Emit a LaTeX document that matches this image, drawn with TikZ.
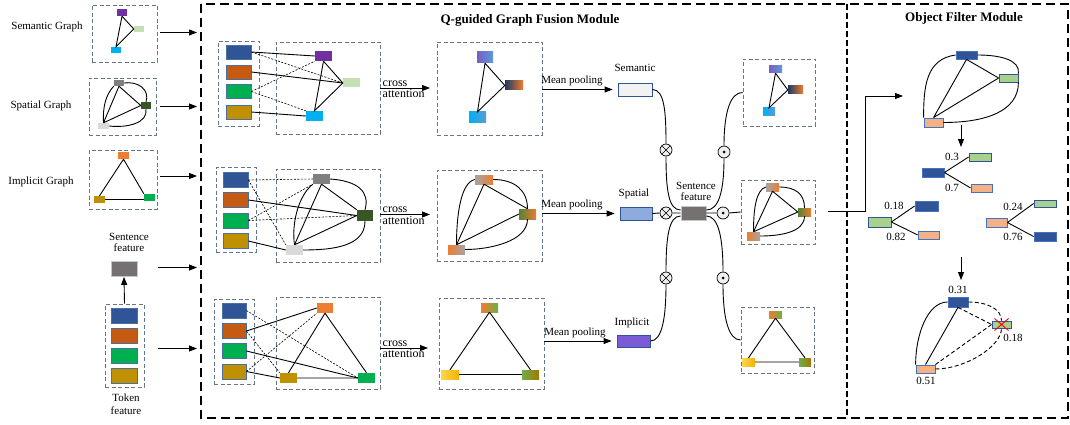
\documentclass[tikz,border=0pt]{standalone}
\usepackage{fontspec}
\setmainfont{Liberation Serif}
\usetikzlibrary{arrows.meta,calc}
\definecolor{cpurple}{HTML}{7030A0}
\definecolor{clgreen}{HTML}{C5E0B4}
\definecolor{ccyan}{HTML}{00B0F0}
\definecolor{cgray}{HTML}{7F7F7F}
\definecolor{cdgreen}{HTML}{375623}
\definecolor{clgray}{HTML}{D9D9D9}
\definecolor{corange}{HTML}{ED7D31}
\definecolor{cgold}{HTML}{BF9000}
\definecolor{cgreen}{HTML}{00B050}
\definecolor{tblue}{HTML}{2F5597}
\definecolor{torange}{HTML}{C55A11}
\definecolor{tbord}{HTML}{4A6FA5}
\definecolor{dashc}{HTML}{66758C}
\definecolor{gpurple}{HTML}{7B5CC4}
\definecolor{gblue}{HTML}{5B9BD5}
\definecolor{gnavy}{HTML}{1F3864}
\definecolor{ggray}{HTML}{A5A5A5}
\definecolor{ggreen}{HTML}{548235}
\definecolor{glgreen}{HTML}{70AD47}
\definecolor{gyel1}{HTML}{FFD54F}
\definecolor{gyel2}{HTML}{F0B400}
\definecolor{golive}{HTML}{9C7A00}
\definecolor{semf}{HTML}{F2F2F2}
\definecolor{spaf}{HTML}{8FAADC}
\definecolor{impf}{HTML}{7B5CD6}
\definecolor{sfgray}{HTML}{767171}
\definecolor{sfbord}{HTML}{C9C6C6}
\definecolor{ofgreen}{HTML}{A9D18E}
\definecolor{ofpeach}{HTML}{F4B183}
\definecolor{ofbord}{HTML}{4472C4}
\newcommand{\mkbox}[6]{\node[#6, minimum width=#4pt, minimum height=#5pt] (#1) at (#2,#3) {};}
\begin{document}
\begin{tikzpicture}[x=1pt,y=-1pt,
  lbl/.style={font=\fontsize{11}{12}\selectfont, inner sep=1pt},
  cat/.style={font=\fontsize{12}{13}\selectfont, inner sep=0.5pt},
  ttl/.style={font=\fontsize{13}{14}\selectfont\bfseries, inner sep=1pt},
  dbox/.style={draw=dashc, line width=0.9pt, dash pattern=on 4pt off 2.5pt, inner sep=0},
  gn/.style={inner sep=0, draw=none},
  tk/.style={draw=tbord, line width=0.8pt, inner sep=0},
  obn/.style={draw=ofbord, line width=0.8pt, inner sep=0},
  vecb/.style={draw=tblue, line width=0.8pt, inner sep=0},
  ln/.style={line width=0.9pt, black},
  dln/.style={line width=0.6pt, black, dash pattern=on 2pt off 1.5pt},
  fdln/.style={line width=0.9pt, black, dash pattern=on 4pt off 2.5pt},
  arr/.style={line width=0.9pt, -{Triangle[length=8pt,width=6pt]}},
  bigframe/.style={line width=1.8pt, dash pattern=on 9pt off 5pt},
  divl/.style={line width=1.3pt, dash pattern=on 6pt off 3pt},
  otimesn/.style={circle, draw, fill=gray!12, minimum size=12pt, inner sep=0, line width=0.7pt,
    path picture={\draw[black, line width=0.6pt] (path picture bounding box.north west) -- (path picture bounding box.south east) (path picture bounding box.north east) -- (path picture bounding box.south west);}},
  odotn/.style={circle, draw, fill=gray!12, minimum size=12pt, inner sep=0, line width=0.7pt,
    path picture={\fill[black] (path picture bounding box.center) circle[radius=1.5pt];}}
]
\useasboundingbox (0,0) rectangle (1070,425);

% ---------------- left column ----------------
\node[lbl] (lsg) at (47,27) {Semantic Graph};
\node[lbl] (lspg) at (41,106) {Spatial Graph};
\node[lbl] (lig) at (41,182) {Implicit Graph};

\node[dbox,minimum width=65pt,minimum height=57pt] (sgb) at (124.5,33.5) {};
\mkbox{sgp}{122}{12.5}{10}{7}{gn,fill=cpurple}
\mkbox{sgl}{139}{29}{10}{6}{gn,fill=clgreen}
\mkbox{sgc}{116}{50}{10}{6}{gn,fill=ccyan}
\draw[ln] (sgp.south) -- (sgl.west) -- (sgc.north) -- (sgp.south);

\node[dbox,minimum width=67pt,minimum height=57pt] (spb) at (122.5,106.5) {};
\mkbox{spg}{119}{83}{10}{6}{gn,fill=cgray}
\mkbox{spd}{146}{105.5}{10}{7}{gn,fill=cdgreen}
\mkbox{spl}{103.5}{126}{11}{6}{gn,fill=clgray}
\draw[ln] (spg.south) -- (spd.west) (spg.south) -- (spl.north) (spd.west) -- (spl.north);
\draw[ln] (spg.east) .. controls +(14,-2) and +(4,-12) .. (spd.north);
\draw[ln] (spd.south) .. controls +(2,14) and +(18,2) .. (spl.east);
\draw[ln] (spg.south west) .. controls +(-8,8) and +(-1,-15) .. (spl.north);

\node[dbox,minimum width=68pt,minimum height=59pt] (igb) at (123,179.5) {};
\mkbox{igo}{123.5}{155.5}{11}{7}{gn,fill=corange}
\mkbox{igy}{99.5}{199.5}{11}{7}{gn,fill=cgold}
\mkbox{igr}{149.5}{197.5}{11}{7}{gn,fill=cgreen}
\draw[ln] (igo.south) -- (igy.north) (igo.south) -- (igr.north west) (igy.east) -- (igy.east -| igr.west);

\node[lbl, align=center, font=\fontsize{11}{11.5}\selectfont] (lsf) at (129,242.5) {Sentence\\feature};
\mkbox{sfb}{124}{269}{26}{15}{draw=sfbord, fill=sfgray, line width=0.8pt, inner sep=0}
\node[dbox,minimum width=39pt,minimum height=83pt] (tkb) at (124.5,345.5) {};
\mkbox{tka}{124}{315.5}{26}{15}{tk,fill=tblue}
\mkbox{tkb2}{124}{335.5}{26}{15}{tk,fill=torange}
\mkbox{tkc}{124}{355.5}{26}{15}{tk,fill=cgreen}
\mkbox{tkd}{124}{375.5}{26}{15}{tk,fill=cgold}
\node[lbl, align=center, font=\fontsize{11}{12.5}\selectfont] (ltf) at (126,404) {Token\\feature};
\draw[arr] (tkb.north) -- (sfb.south);

\coordinate (la1s) at (160,32.5); \coordinate (la1e) at (197,32.5);
\coordinate (la2s) at (160,106.5); \coordinate (la2e) at (197,106.5);
\coordinate (la3s) at (160,176); \coordinate (la3e) at (197,176);
\coordinate (la4s) at (158,267.5); \coordinate (la4e) at (197,267.5);
\coordinate (la5s) at (158,348.5); \coordinate (la5e) at (197,348.5);
\draw[arr] (la1s) -- (la1e);
\draw[arr] (la2s) -- (la2e);
\draw[arr] (la3s) -- (la3e);
\draw[arr] (la4s) -- (la4e);
\draw[arr] (la5s) -- (la5e);

% ---------------- frames ----------------
\draw[bigframe] (201,4) rectangle (1068,418);
\draw[divl] (847,4) -- (847,418);
\node[ttl] (t1) at (530,20) {Q-guided Graph Fusion Module};
\node[ttl] (t2) at (964,18) {Object Filter Module};

% ---------------- row 1 ----------------
\node[dbox,minimum width=41pt,minimum height=85pt] (q1) at (238.5,83.5) {};
\mkbox{t1a}{238.5}{52}{25}{14}{tk,fill=tblue}
\mkbox{t1b}{238.5}{72}{25}{14}{tk,fill=torange}
\mkbox{t1c}{238.5}{91.5}{25}{14}{tk,fill=cgreen}
\mkbox{t1d}{238.5}{112}{25}{14}{tk,fill=cgold}
\node[dbox,minimum width=104pt,minimum height=92pt] (g1) at (328,88) {};
\mkbox{g1p}{323.5}{56}{17}{10}{gn,fill=cpurple}
\mkbox{g1l}{351.5}{83}{17}{9}{gn,fill=clgreen}
\mkbox{g1c}{314.5}{116}{17}{10}{gn,fill=ccyan}
\draw[ln] (t1a.east) -- (g1p.west);
\draw[dln] (t1a.east) -- (g1l.west);
\draw[ln] (t1b.east) -- (g1l.west);
\draw[dln] (t1c.east) -- (g1p.south west);
\draw[dln] (t1c.east) -- (g1c.north west);
\draw[ln] (t1d.east) -- (g1c.west);
\draw[ln] (g1p.south) -- (g1l.west) -- (g1c.north) -- (g1p.south);
\coordinate (x1e) at (430,88);
\draw[arr] (g1.east) -- (x1e);
\node[cat, anchor=south west] (c1a) at (382,87) {cross};
\node[cat, anchor=north west] (c1b) at (382,89) {attention};

\node[dbox,minimum width=105pt,minimum height=93pt] (o1) at (489.5,88.5) {};
\mkbox{o1a}{485}{57.5}{16}{11}{gn,left color=gpurple,right color=gblue}
\mkbox{o1b}{514}{85.5}{18}{9}{gn,left color=gnavy,right color=corange}
\mkbox{o1c}{477.5}{117.5}{17}{11}{gn,left color=ccyan,right color=gblue}
\draw[ln] (o1a.south) -- (o1b.west) -- (o1c.north) -- (o1a.south);

\mkbox{sem}{635}{89.5}{34}{13}{vecb,fill=semf}
\node[lbl] (lsem) at (635,68) {Semantic};
\draw[arr] (o1.east |- sem.west) -- ([xshift=-5pt]sem.west);
\node[lbl, anchor=south] (mp1) at (572,87) {Mean pooling};

% ---------------- row 2 ----------------
\node[dbox,minimum width=40pt,minimum height=85pt] (q2) at (236,209.5) {};
\mkbox{t2a}{235.5}{180}{25}{15}{tk,fill=tblue}
\mkbox{t2b}{235.5}{200}{25}{15}{tk,fill=torange}
\mkbox{t2c}{235.5}{220.5}{25}{15}{tk,fill=cgreen}
\mkbox{t2d}{235.5}{241}{25}{15}{tk,fill=cgold}
\node[dbox,minimum width=104pt,minimum height=93pt] (g2) at (328,215.5) {};
\mkbox{g2g}{321.5}{179}{17}{10}{gn,fill=cgray}
\mkbox{g2d}{365}{215.5}{16}{11}{gn,fill=cdgreen}
\mkbox{g2l}{294.5}{250}{17}{10}{gn,fill=clgray}
\draw[dln] (t2a.east) -- (g2g.west);
\draw[dln] (t2a.east) -- (g2l.north west);
\draw[ln] (t2b.east) -- (g2d.west);
\draw[dln] (t2c.east) -- (g2d.west);
\draw[dln] (t2c.east) -- (g2g.south west);
\draw[ln] (t2d.east) -- (g2l.west);
\draw[ln] (g2g.south) -- (g2d.north west) (g2g.south) -- (g2l.north) (g2d.west) -- (g2l.north);
\draw[ln] (g2g.east) .. controls +(28,2) and +(5,-18) .. (g2d.north);
\draw[ln] (g2d.south) .. controls +(0,25) and +(30,0) .. (g2l.east);
\draw[ln] (g2g.south west) .. controls +(-15,12) and +(-3,-20) .. (g2l.north);
\coordinate (x2e) at (430,214.5);
\draw[arr] (g2.east |- x2e) -- (x2e);
\node[cat, anchor=south west] (c2a) at (382,213.5) {cross};
\node[cat, anchor=north west] (c2b) at (382,215.5) {attention};

\node[dbox,minimum width=105pt,minimum height=91pt] (o2) at (489.5,215.5) {};
\mkbox{o2a}{484}{179.5}{18}{9}{gn,left color=ggray,right color=corange}
\mkbox{o2b}{527.5}{214}{17}{10}{gn,left color=ggreen,right color=corange}
\mkbox{o2c}{456.5}{249.5}{17}{9}{gn,left color=corange,right color=ggray}
\draw[ln] (o2a.south) -- (o2b.north) (o2a.south) -- (o2c.north) (o2b.west) -- (o2c.north);
\draw[ln] (o2a.east) .. controls +(22,0) and +(0,-18) .. (o2b.north);
\draw[ln] (o2a.west) .. controls +(-14,3) and +(0,-30) .. (o2c.north);
\draw[ln] (o2b.south) .. controls +(0,22) and +(25,0) .. (o2c.east);

\mkbox{spa}{636}{213.5}{32}{13}{vecb,fill=spaf}
\node[lbl] (lspa) at (634,194) {Spatial};
\draw[arr] (o2.east |- spa.west) -- ([xshift=-5pt]spa.west);
\node[lbl, anchor=south] (mp2) at (572,211.5) {Mean pooling};

% ---------------- row 3 ----------------
\node[dbox,minimum width=40pt,minimum height=85pt] (q3) at (234,341.5) {};
\mkbox{t3a}{234}{310.5}{24}{15}{tk,fill=tblue}
\mkbox{t3b}{234}{331}{24}{15}{tk,fill=torange}
\mkbox{t3c}{234}{351}{24}{15}{tk,fill=cgreen}
\mkbox{t3d}{234}{371.5}{24}{15}{tk,fill=cgold}
\node[dbox,minimum width=104pt,minimum height=92pt] (g3) at (328,343) {};
\mkbox{g3o}{325}{308}{16}{10}{gn,fill=corange}
\mkbox{g3y}{288.5}{378}{17}{10}{gn,fill=cgold}
\mkbox{g3r}{366.5}{378}{17}{10}{gn,fill=cgreen}
\draw[dln] (t3a.east) -- (g3r.west);
\draw[ln] (t3b.east) -- (g3o.west);
\draw[dln] (t3b.east) -- (g3y.north west);
\draw[ln] (t3c.east) -- (g3r.west);
\draw[dln] (t3d.east) -- (g3o.south west);
\draw[ln] (t3d.east) -- (g3y.west);
\draw[ln] (g3o.south) -- (g3y.north) (g3o.south) -- (g3r.north) (g3y.east) -- (g3r.west);
\coordinate (x3e) at (428,348);
\draw[arr] (g3.east |- x3e) -- (x3e);
\node[cat, anchor=south west] (c3a) at (382,347) {cross};
\node[cat, anchor=north west] (c3b) at (382,349) {attention};

\node[dbox,minimum width=105pt,minimum height=91pt] (o3) at (491.5,343.5) {};
\mkbox{o3a}{489.5}{307.5}{17}{9}{gn,left color=corange,right color=glgreen}
\mkbox{o3b}{450}{374.5}{18}{9}{gn,left color=gyel1,right color=gyel2}
\mkbox{o3c}{530.5}{374.5}{17}{9}{gn,left color=glgreen,right color=golive}
\draw[ln] (o3a.south) -- (o3b.north) (o3a.south) -- (o3c.north) (o3b.east) -- (o3c.west);

\mkbox{imp}{633.5}{341}{33}{12}{vecb,fill=impf}
\node[lbl] (limp) at (632,323) {Implicit};
\draw[arr] (o3.east |- imp.west) -- ([xshift=-5pt]imp.west);
\node[lbl, anchor=south] (mp3) at (575,339) {Mean pooling};

% ---------------- fusion ----------------
\mkbox{sent}{693.5}{213}{25}{14}{draw=sfbord, fill=sfgray, line width=0.8pt, inner sep=0}
\node[lbl, align=center, font=\fontsize{11}{11.5}\selectfont] (lsent) at (696,191.5) {Sentence\\feature};
\node[otimesn] (ot1) at (666,150) {};
\node[otimesn] (ot2) at (666,213) {};
\node[otimesn] (ot3) at (666,278) {};
\node[odotn] (od1) at (724,152) {};
\node[odotn] (od2) at (723,213) {};
\node[odotn] (od3) at (723,278) {};

\draw[ln] (sem.east) .. controls +(12,0) and +(0,-32) .. (ot1.north);
\draw[ln] (ot1.south) .. controls +(0,34) and +(-12,0) .. ([yshift=3pt]sent.west);
\draw[ln] (spa.east) -- (ot2.west) (ot2.east) -- (sent.west);
\draw[ln] (imp.east) .. controls +(12,0) and +(0,32) .. (ot3.south);
\draw[ln] (ot3.north) .. controls +(0,-34) and +(-12,0) .. ([yshift=-3pt]sent.west);

% ---------------- right output boxes ----------------
\node[dbox,minimum width=72pt,minimum height=67pt] (rb1) at (779,92.5) {};
\mkbox{r1a}{775.5}{69.5}{13}{7}{gn,left color=gpurple,right color=gblue}
\mkbox{r1b}{795.5}{90}{15}{8}{gn,left color=gnavy,right color=corange}
\mkbox{r1c}{769}{112}{12}{8}{gn,left color=ccyan,right color=gblue}
\draw[ln] (r1a.south) -- (r1b.west) -- (r1c.north) -- (r1a.south);

\node[dbox,minimum width=74pt,minimum height=64pt] (rb2) at (778,212) {};
\mkbox{r2a}{772.5}{187}{13}{8}{gn,left color=ggray,right color=corange}
\mkbox{r2b}{804.5}{212}{13}{8}{gn,left color=ggreen,right color=corange}
\mkbox{r2c}{753.5}{236}{13}{8}{gn,left color=corange,right color=ggray}
\draw[ln] (r2a.south) -- (r2b.west) (r2a.south) -- (r2c.north) (r2b.west) -- (r2c.north);
\draw[ln] (r2a.east) .. controls +(16,0) and +(0,-14) .. (r2b.north);
\draw[ln] (r2a.west) .. controls +(-10,3) and +(0,-22) .. (r2c.north);
\draw[ln] (r2b.south) .. controls +(0,16) and +(20,0) .. (r2c.east);

\node[dbox,minimum width=73pt,minimum height=66pt] (rb3) at (777.5,340) {};
\mkbox{r3a}{775.5}{314.5}{13}{7}{gn,left color=corange,right color=glgreen}
\mkbox{r3b}{748.5}{362}{13}{8}{gn,left color=gyel1,right color=gyel2}
\mkbox{r3c}{805}{362}{12}{8}{gn,left color=glgreen,right color=golive}
\draw[ln] (r3a.south) -- (r3b.north) (r3a.south) -- (r3c.north) (r3b.east) -- (r3c.west);

\draw[ln] ([yshift=3pt]sent.east) .. controls +(12,0) and +(0,34) .. (od1.south);
\draw[ln] (od1.north) .. controls +(0,-34) and +(-12,0) .. (rb1.west);
\draw[ln] (sent.east) -- (od2.west) (od2.east) -- (rb2.west);
\draw[ln] ([yshift=-3pt]sent.east) .. controls +(12,0) and +(0,-34) .. (od3.north);
\draw[ln] (od3.south) .. controls +(0,34) and +(-12,0) .. (rb3.west);

\coordinate (k1) at (828,211);
\coordinate (k2) at (865,211);
\coordinate (k3) at (865,96);
\coordinate (k4) at (903,96);
\draw[arr] (k1) -- (k2) -- (k3) -- (k4);

% ---------------- object filter ----------------
\mkbox{f1}{966.5}{55}{21}{8}{obn,fill=tblue}
\mkbox{f2}{1008.5}{78}{19}{8}{obn,draw=tblue,fill=ofgreen}
\mkbox{f3}{933.5}{122.5}{19}{9}{obn,fill=ofpeach}
\draw[ln] (f1.south) -- (f3.north) (f1.south) -- (f2.west) (f3.north) -- (f2.west);
\draw[ln] (f1.east) .. controls +(22,0) and +(2,-14) .. (f2.north east);
\draw[ln] (f1.west) .. controls +(-30,4) and +(0,-30) .. (f3.north west);
\draw[ln] (f2.south east) .. controls +(0,30) and +(40,0) .. (f3.east);
\coordinate (d1s) at (961,125); \coordinate (d1e) at (961,147);
\draw[arr] (d1s) -- (d1e);

\mkbox{u1}{933}{172.5}{22}{9}{obn,fill=tblue}
\mkbox{u1g}{980}{157}{22}{8}{obn,draw=tblue,fill=ofgreen}
\mkbox{u1o}{981.5}{188}{21}{8}{obn,fill=ofpeach}
\draw[ln] (u1.east) -- (u1g.west) (u1.east) -- (u1o.west);
\node[lbl] (n03) at (952,157) {0.3};
\node[lbl] (n07) at (952,188) {0.7};

\mkbox{u2b}{926.5}{206}{23}{10}{obn,fill=tblue}
\mkbox{u2g}{879.5}{222}{23}{10}{obn,draw=tblue,fill=ofgreen}
\mkbox{u2o}{928.5}{235}{21}{8}{obn,fill=ofpeach}
\draw[ln] (u2g.east) -- (u2b.west) (u2g.east) -- (u2o.west);
\node[lbl] (n018) at (894,206) {0.18};
\node[lbl] (n082) at (896,237) {0.82};

\mkbox{u3g}{1045}{203.5}{22}{7}{obn,draw=tblue,fill=ofgreen}
\mkbox{u3o}{996.5}{222.5}{21}{9}{obn,fill=ofpeach}
\mkbox{u3b}{1045}{236.5}{22}{9}{obn,fill=tblue}
\draw[ln] (u3o.east) -- (u3g.west) (u3o.east) -- (u3b.west);
\node[lbl] (n024) at (1013,207) {0.24};
\node[lbl] (n076) at (1013,237) {0.76};

\coordinate (d2s) at (961,257); \coordinate (d2e) at (961,280);
\draw[arr] (d2s) -- (d2e);

\mkbox{fb}{958}{302}{20}{10}{obn,fill=tblue}
\mkbox{fg}{1001.5}{324.5}{19}{7}{obn,draw=tblue,fill=ofgreen}
\mkbox{fo}{925.5}{369}{19}{8}{obn,fill=ofpeach}
\draw[ln] (fb.south) -- (fo.north);
\draw[ln] (fb.west) .. controls +(-20,0) and +(0,-30) .. (fo.north west);
\draw[fdln] (fb.south) -- (fg.west);
\draw[fdln] (fb.east) .. controls +(18,0) and +(0,-12) .. (fg.north);
\draw[fdln] (fo.north east) -- (fg.west);
\draw[fdln] (fo.east) .. controls +(30,0) and +(0,18) .. (fg.south);
\draw[red, line width=0.9pt] ($(fg.center)+(-7,-6)$) -- ($(fg.center)+(7,6)$) ($(fg.center)+(-7,6)$) -- ($(fg.center)+(7,-6)$);
\node[lbl] (n031) at (958,290) {0.31};
\node[lbl] (n018b) at (1013,338) {0.18};
\node[lbl] (n051) at (926,381) {0.51};
\end{tikzpicture}
\end{document}
